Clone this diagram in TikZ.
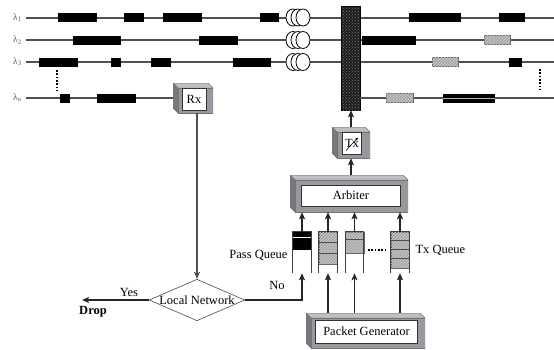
\documentclass[tikz,border=0pt]{standalone}
\usepackage{fontspec}
\setmainfont{Liberation Serif}
\usetikzlibrary{calc,positioning,arrows.meta,shapes.geometric,patterns}
\definecolor{fibregray}{RGB}{80,80,80}
\definecolor{shellgray}{RGB}{152,152,158}
\definecolor{topgray}{RGB}{190,190,195}
\definecolor{sidegray}{RGB}{120,120,126}
\definecolor{hatchgray}{RGB}{165,165,165}
\tikzset{
  lbl/.style={font=\fontsize{12.5}{14}\selectfont},
  lam/.style={font=\fontsize{9.5}{10}\selectfont,text=black!65,inner sep=1pt},
  fibre/.style={draw=fibregray,line width=2pt},
  pkt/.style={fill=black},
  hpkt/.style={fill=hatchgray,draw=black!60,line width=0.4pt,
               postaction={pattern=north east lines,pattern color=gray!35}},
  coil/.style={fill=white,draw=black,line width=0.8pt},
  switchbar/.style={minimum width=19pt,minimum height=104pt,inner sep=0pt,fill=black!88,draw=black,
               line width=0.4pt,postaction={pattern=crosshatch dots,pattern color=black!55}},
  arr/.style={-{Stealth[length=7pt,width=6pt,inset=1.5pt]},line width=1.6pt,black!85},
  box3d/.style={inner sep=0pt,path picture={
      \path (path picture bounding box.north west) coordinate (bnw)
            (path picture bounding box.south east) coordinate (bse);
      \filldraw[topgray,draw=black!55,line width=0.5pt] (bnw) -- ($(bnw -| bse)+(-5pt,0)$)
            -- ($(bnw -| bse)+(0,-5pt)$) -- ($(bnw)+(5pt,-5pt)$) -- cycle;
      \filldraw[sidegray,draw=black!55,line width=0.5pt] (bnw) -- ($(bnw)+(5pt,-5pt)$)
            -- ($(bnw |- bse)+(5pt,0)$) -- ($(bnw |- bse)+(0,5pt)$) -- cycle;
      \filldraw[shellgray,draw=black!55,line width=0.5pt] ($(bnw)+(5pt,-5pt)$) rectangle (bse);}},
  face/.style={fill=white,draw=black!80,line width=0.6pt,inner sep=0pt,lbl},
  queue/.style={minimum width=18pt,minimum height=41pt,inner sep=0pt},
  qside/.style={draw=black!75,line width=1pt},
  slot/.style={draw=black!70,line width=0.8pt},
  dots/.style={line width=1.6pt,dash pattern=on 1.6pt off 1.7pt}
}
\begin{document}
\begin{tikzpicture}[x=1pt,y=-1pt]
  \useasboundingbox (0,0) rectangle (554,349);
  % wavelengths
  \foreach \n/\y/\s in {l1/17.5/1,l2/40/2,l3/62/3,ln/98/n}
    \node[lam,anchor=west] (\n) at (12,\y) {λ\textsubscript{\s}};
  \foreach \n/\y in {1/17.5,2/40,3/62,n/98}
    \coordinate (e\n) at (554,\y);
  \foreach \n in {1,2,3}
    \draw[fibre] ([xshift=3pt]l\n.east) -- (e\n);

  % switch and receiver
  \node[switchbar] (sw) at (350.5,58) {};
  \node[box3d,minimum width=40pt,minimum height=30pt] (rx) at (193,98) {};
  \node[face,minimum width=24pt,minimum height=22pt] (rxin) at ($(rx)+(1,1)$) {Rx};
  \draw[fibre] ([xshift=3pt]ln.east) -- (rx.west);
  \draw[fibre] (sw.east |- en) -- (en);

  % packets
  \foreach \y/\a/\b in {17.5/58/97,17.5/124/144,17.5/163/202,17.5/260/279,17.5/409/461,17.5/499/525,
                        40/73/121,40/199/238,40/362/416,
                        62/39/78,62/111/121,62/151/171,62/233/271,62/509/522,
                        98/60/70,98/97/136,98/443/495}
    \fill[pkt] (\a,\y-4.5) rectangle (\b,\y+4.5);
  \draw[gray!60,line width=0.6pt] (443,98) -- (495,98);
  \foreach \y/\a/\b in {40/484/510,62/432/458,98/386/413}
    \filldraw[hpkt] (\a,\y-4.5) rectangle (\b,\y+4.5);
  \foreach \y in {17.5,40,62}
    \foreach \cx in {293,298,303}
      \filldraw[coil] (\cx,\y) ellipse [x radius=7,y radius=8.5];
  \draw[dots] (57,70) -- (57,92);
  \draw[dots] (540,69) -- (540,90);

  % transmitter side
  \node[box3d,minimum width=38pt,minimum height=31pt] (tx) at (351,142.5) {};
  \node[face,minimum width=19pt,minimum height=22pt] (txin) at ($(tx)+(1,1)$) {Tx};
  \draw[-{Stealth[length=3.5pt,width=3pt]},line width=0.6pt]
    ($(txin.center)+(-6,7)$) -- ($(txin.center)+(6,-6)$);
  \node[box3d,minimum width=118pt,minimum height=37pt] (arb) at (349,193.5) {};
  \node[face,minimum width=99pt,minimum height=21pt] (arbin) at ($(arb)+(2,2)$) {Arbiter};
  \node[box3d,minimum width=119pt,minimum height=35pt] (gen) at (365.5,330.5) {};
  \node[face,minimum width=102pt,minimum height=23pt] (genin) at ($(gen)+(1,1)$) {Packet Generator};

  % queues
  \foreach \q/\x in {q0/302,q1/328,q2/354.5,q3/400}
    \node[queue] (\q) at (\x,252.5) {};
  \fill[black] (q0.north west) rectangle ($(q0.north east)+(0,18)$);
  \draw[white,line width=0.8pt] ($(q0.north west)+(0,5.5)$) -- ($(q0.north east)+(0,5.5)$);
  \foreach \q/\h in {q1/32,q2/21,q3/36}
    \filldraw[hpkt] (\q.north west) rectangle ($(\q.north east)+(0,\h)$);
  \foreach \q/\d in {q1/11,q1/22,q2/8,q3/9,q3/18,q3/27}
    \draw[slot] ($(\q.north west)+(0,\d)$) -- ($(\q.north east)+(0,\d)$);
  \foreach \q in {q0,q1,q2,q3}
    \draw[qside] (\q.south west) -- (\q.north west) -- (\q.north east) -- (\q.south east);
  \draw[dots] (368,250) -- (386,250);
  \node[lbl,anchor=west] (txq) at (412,250) {Tx Queue};
  \node[lbl,anchor=east] (passq) at (291,255) {Pass Queue};

  % decision
  \node[diamond,draw=black!70,line width=0.6pt,aspect=2.3,inner sep=0pt,lbl] (net) at (197,300) {Local Network};
  \coordinate (dropend) at (82,300);
  \node[lbl] (yes) at (129,292) {Yes};
  \node[lbl,font=\fontsize{12.5}{14}\selectfont\bfseries] (drop) at (93,312) {Drop};
  \node[lbl] (no) at (277,285) {No};

  % connectors
  \draw[arr] (tx.north) -- (tx.north |- sw.south);
  \draw[arr] (arb.north -| tx) -- (tx.south);
  \foreach \q in {q0,q1,q2,q3}
    \draw[arr] (\q.north) -- (\q.north |- arb.south);
  \foreach \q in {q1,q2,q3}
    \draw[arr] (gen.north -| \q) -- (\q.south);
  \draw[arr,fibregray] (rx.south -| net.north) -- (net.north);
  \draw[arr] (net.west) -- (dropend);
  \draw[arr,line width=2pt] (net.east) -| (q0.south);
\end{tikzpicture}
\end{document}
